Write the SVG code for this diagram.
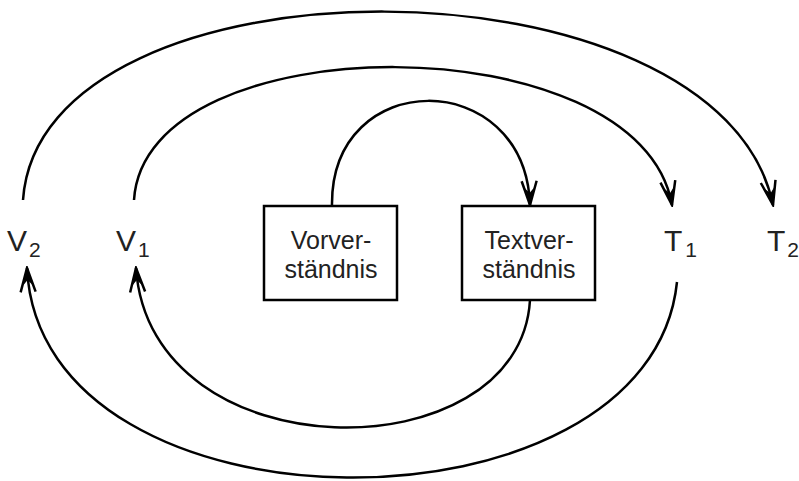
<svg xmlns="http://www.w3.org/2000/svg" width="799" height="481" viewBox="0 0 799 481">
  <style>
    .conn { fill: none; stroke: #000; stroke-width: 2.5; }
    .box { fill: #fff; stroke: #000; stroke-width: 2.5; }
    .lbl { font-family: "Liberation Sans", Arial, sans-serif; fill: #222; }
    .big { font-size: 30px; }
    .sub { font-size: 21px; }
    .bt { font-size: 25px; text-anchor: middle; }
  </style>
  <defs>
    <marker id="arr" viewBox="-26 -10 28 20" refX="0" refY="0" markerWidth="28" markerHeight="20" markerUnits="userSpaceOnUse" orient="auto">
      <path d="M-24,-7.5 L0,0 L-24,7.5" fill="none" stroke="#000" stroke-width="2.5"/>
      <path d="M1,0 L-17,-4.5 L-12,0 L-17,4.5 Z" fill="#000"/>
    </marker>
  </defs>
  <rect width="799" height="481" fill="#fff"/>
  <g id="connectors">
    <path class="conn" d="M23,200 C40,-52 720,-52 773,205" marker-end="url(#arr)"/>
    <path class="conn" d="M134,200 C145,22 640,22 672,205" marker-end="url(#arr)"/>
    <path class="conn" d="M332,206 C330,66 525,66 530,205" marker-end="url(#arr)"/>
    <path class="conn" d="M530,300 C520,475 150,475 136,268" marker-end="url(#arr)"/>
    <path class="conn" d="M677,282 C650,545 40,545 27,268" marker-end="url(#arr)"/>
  </g>
  <g id="V2"><text class="lbl big" x="7" y="251">V<tspan class="sub" dx="2" dy="6">2</tspan></text></g>
  <g id="V1"><text class="lbl big" x="116" y="251">V<tspan class="sub" dx="2" dy="6">1</tspan></text></g>
  <g id="T1"><text class="lbl big" x="664" y="251">T<tspan class="sub" dx="3" dy="6">1</tspan></text></g>
  <g id="T2"><text class="lbl big" x="767" y="251">T<tspan class="sub" dx="2" dy="6">2</tspan></text></g>
  <g id="Vorverstaendnis">
    <rect class="box" x="264" y="206" width="133" height="94"/>
    <text class="lbl bt" x="331" y="249">Vorver-</text>
    <text class="lbl bt" x="331" y="278">ständnis</text>
  </g>
  <g id="Textverstaendnis">
    <rect class="box" x="462" y="206" width="133" height="94"/>
    <text class="lbl bt" x="529" y="249">Textver-</text>
    <text class="lbl bt" x="529" y="278">ständnis</text>
  </g>
</svg>
